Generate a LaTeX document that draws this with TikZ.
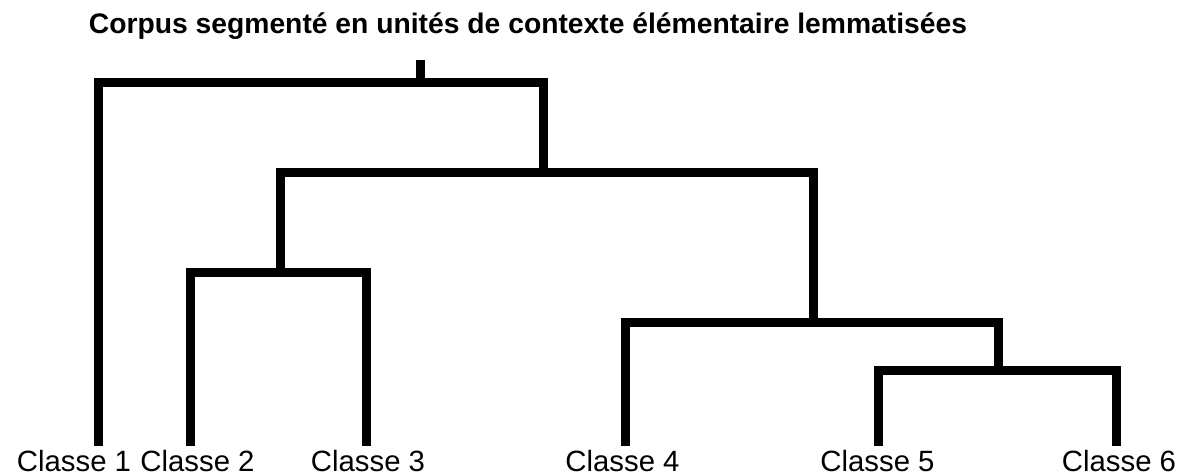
\documentclass[tikz,border=0pt]{standalone}
\usepackage{fontspec}
\setmainfont{Liberation Sans}
\begin{document}
\begin{tikzpicture}[x=0.75pt,y=-0.75pt,
  link/.style={line width=6.75pt, line join=miter, line cap=butt},
  ttl/.style={font=\fontsize{21.2}{25}\selectfont\bfseries, inner sep=0pt, anchor=base},
  lab/.style={font=\fontsize{22}{26}\selectfont, inner sep=0pt, anchor=base}]
\useasboundingbox[fill=white] (0,0) rectangle (1182,475);
% title
\node[ttl] (title) at (528,33) {Corpus segmenté en unités de contexte élémentaire lemmatisées};
% merge points (connection x, bar y)
\coordinate (root) at (420.5,60);
\coordinate (m1) at (420.5,82);
\coordinate (m2) at (543.5,172);
\coordinate (m3) at (280,272);
\coordinate (m4) at (813,322);
\coordinate (m5) at (998.5,370);
% leaf ends
\coordinate (l1) at (98.5,446);
\coordinate (l2) at (190,446);
\coordinate (l3) at (366,446);
\coordinate (l4) at (625,446);
\coordinate (l5) at (878.5,446);
\coordinate (l6) at (1116,446);
% labels
\node[lab] (c1) at (74,471) {Classe 1};
\node[lab] (c2) at (197.5,471) {Classe 2};
\node[lab] (c3) at (368,471) {Classe 3};
\node[lab] (c4) at (622.5,471) {Classe 4};
\node[lab] (c5) at (877.5,471) {Classe 5};
\node[lab] (c6) at (1119,471) {Classe 6};
% dendrogram
\draw[link] (root) -- (m1);
\draw[link] (l1) |- (m1) -| (m2);
\draw[link] (m3) |- (m2) -| (m4);
\draw[link] (l2) |- (m3) -| (l3);
\draw[link] (l4) |- (m4) -| (m5);
\draw[link] (l5) |- (m5) -| (l6);
\end{tikzpicture}
\end{document}
